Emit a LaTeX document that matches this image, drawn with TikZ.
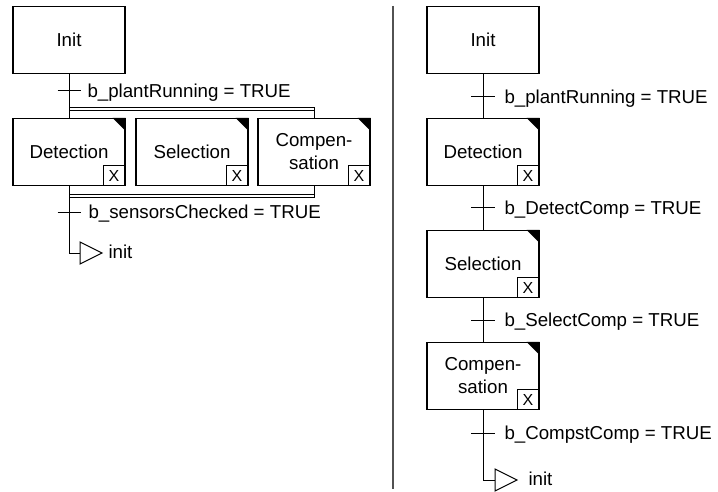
\documentclass[tikz,border=0pt]{standalone}
\usepackage{fontspec}
\setmainfont{Liberation Sans}
\usetikzlibrary{calc}
\begin{document}
\begin{tikzpicture}[x=1pt,y=-1pt,line width=1pt,
  stepbox/.style={draw,line width=1.1pt,minimum width=112pt,minimum height=67pt,
    inner sep=0pt,align=center,font=\fontsize{18.7}{23}\selectfont},
  xbox/.style={draw,line width=1pt,minimum width=22pt,minimum height=20pt,
    inner sep=0pt,anchor=south east,font=\fontsize{16}{16}\selectfont},
  lbl/.style={anchor=base west,inner sep=0pt,font=\fontsize{18.7}{22}\selectfont},
  link/.style={line width=1pt},
  tick/.style={line width=1pt},
  sep/.style={line width=2pt,draw=black!68}]
\useasboundingbox (0,0) rectangle (718,492);

% ---------- simultaneous branches (left) ----------
\node[stepbox] (initL) at (69,40) {Init};
\node[stepbox] (detL) at (69,152) {Detection};
\node[stepbox] (selL) at (192,152) {Selection};
\node[stepbox] (cmpL) at (314,152) {Compen-\\sation};

\coordinate (tL1) at (69,91);
\coordinate (tL2) at (69,212);
\coordinate (divA1) at (69,107.7);  \coordinate (divB1) at (314,107.7);
\coordinate (divA2) at (69,110.3);  \coordinate (divB2) at (314,110.3);
\coordinate (conA1) at (69,195);    \coordinate (conB1) at (314,195);
\coordinate (conA2) at (69,197.7);  \coordinate (conB2) at (314,197.7);
\coordinate (jcL) at (69,253);
\coordinate (jL) at (80,253);

\draw[link] (initL) -- (detL);
\draw[link] (divA1) -- (divB1) -- (cmpL.north);
\draw[link] (divA2) -- (divB2);
\draw[link] (conA1) -- (conB1);
\draw[link] (conA2) -- (conB2) -- (cmpL.south);
\draw[link] (detL.south) -- (jcL) -- (jL);
\draw[link] (jL) -- ++(0,-11) -- ++(22,11) -- ++(-22,11) -- cycle;

\draw[tick] ($(tL1)+(-11.5,0)$) -- ($(tL1)+(11.5,0)$);
\draw[tick] ($(tL2)+(-11.5,0)$) -- ($(tL2)+(11.5,0)$);
\node[lbl] (lL1) at (87,97.7) {b\_plantRunning = TRUE};
\node[lbl] (lL2) at (88,218.7) {b\_sensorsChecked = TRUE};
\node[lbl] (jLt) at (108,258) {init};

% ---------- separator ----------
\draw[sep] (393,6) -- (393,489);

% ---------- sequence (right) ----------
\node[stepbox] (initR) at (483,40) {Init};
\node[stepbox] (detR) at (483,152) {Detection};
\node[stepbox] (selR) at (483,264) {Selection};
\node[stepbox] (cmpR) at (483,376) {Compen-\\sation};

\coordinate (tR1) at (483,97);
\coordinate (tR2) at (483,208);
\coordinate (tR3) at (483,320);
\coordinate (tR4) at (483,433);
\coordinate (jcR) at (483,480);
\coordinate (jR) at (495,480);

\draw[link] (initR) -- (detR);
\draw[link] (detR) -- (selR);
\draw[link] (selR) -- (cmpR);
\draw[link] (cmpR.south) -- (jcR) -- (jR);
\draw[link] (jR) -- ++(0,-11) -- ++(22,11) -- ++(-22,11) -- cycle;

\foreach \t in {tR1,tR2,tR3,tR4}
  \draw[tick] ($(\t)+(-12,0)$) -- ($(\t)+(12,0)$);
\node[lbl] (lR1) at (504,103.7) {b\_plantRunning = TRUE};
\node[lbl] (lR2) at (504,214.7) {b\_DetectComp = TRUE};
\node[lbl] (lR3) at (504,326.7) {b\_SelectComp = TRUE};
\node[lbl] (lR4) at (504,439.7) {b\_CompstComp = TRUE};
\node[lbl] (jRt) at (528,485) {init};

% ---------- step markers: active corner and action box ----------
\foreach \s in {detL,selL,cmpL,detR,selR,cmpR}{
  \fill (\s.north east) -- ++(-13,0) -- ++(13,13) -- cycle;
  \node[xbox] (\s-x) at (\s.south east) {X};
}
\end{tikzpicture}
\end{document}
